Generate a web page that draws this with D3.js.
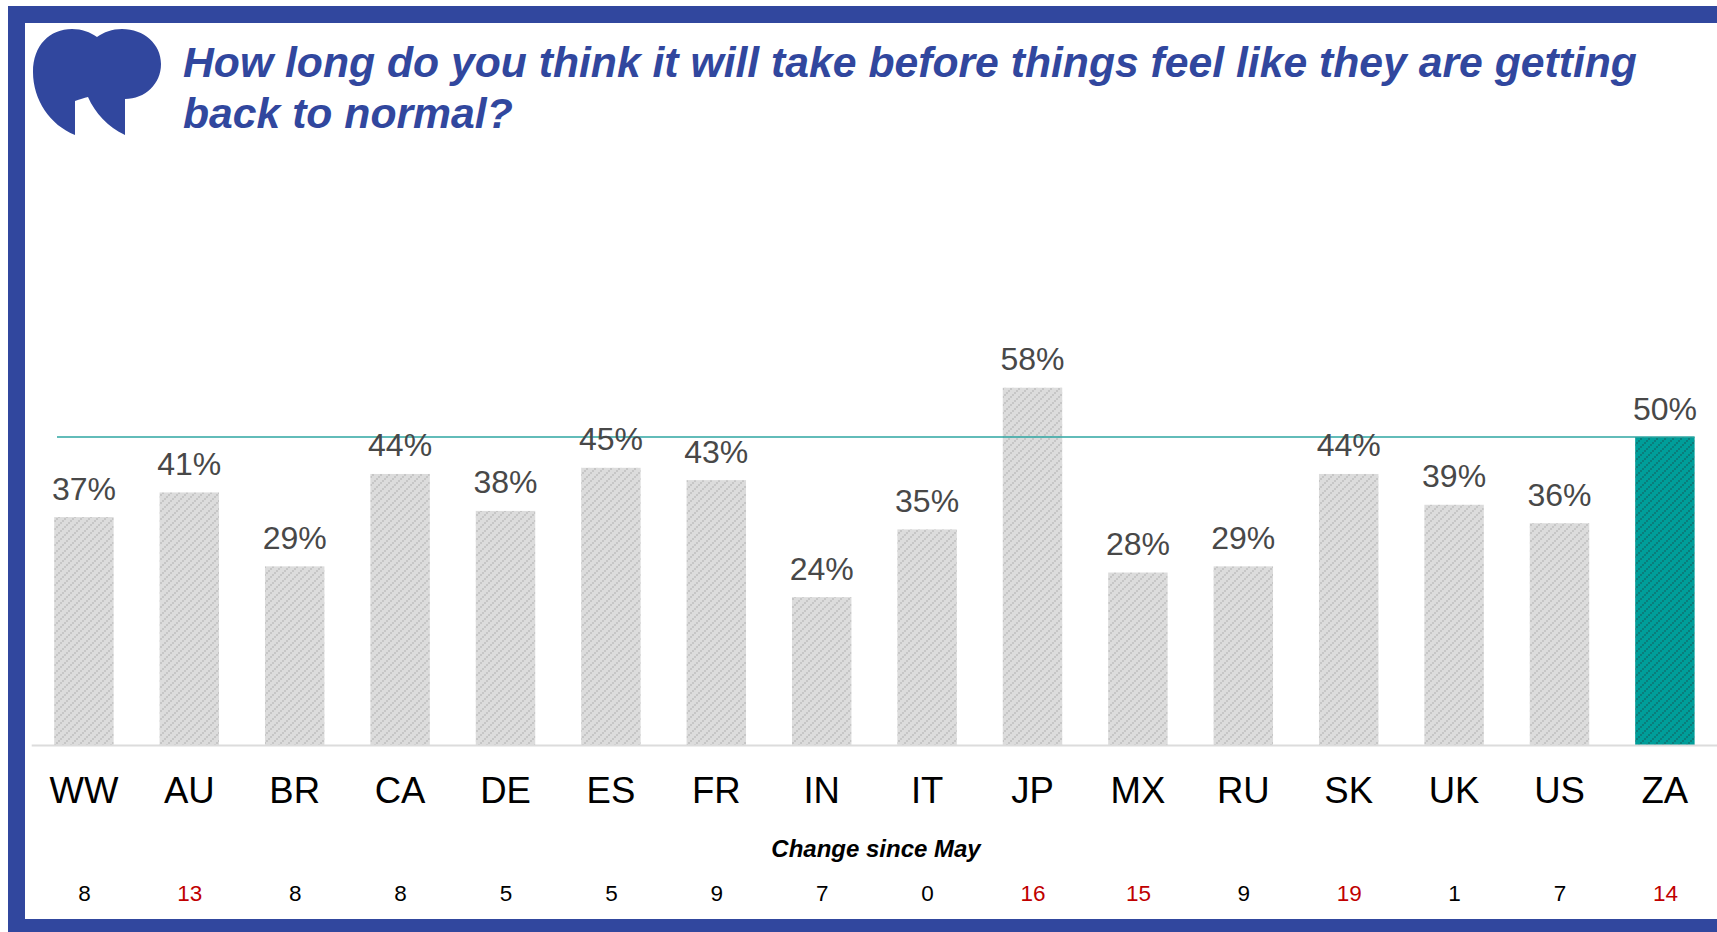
<!DOCTYPE html>
<html><head><meta charset="utf-8">
<script src="https://cdnjs.cloudflare.com/ajax/libs/d3/7.8.5/d3.min.js"></script>
<style>html,body{margin:0;padding:0;background:#fff;overflow:hidden}svg{display:block}text{font-family:"Liberation Sans",Arial,sans-serif}</style>
</head><body><div id="chart"></div>
<script>
const categories = ["WW","AU","BR","CA","DE","ES","FR","IN","IT","JP","MX","RU","SK","UK","US","ZA"];
const values = [37,41,29,44,38,45,43,24,35,58,28,29,44,39,36,50];
const changes = [8,13,8,8,5,5,9,7,0,16,15,9,19,1,7,14];
const highlightedCategory = "ZA";
const referenceValue = 50;
const titleLines = ["How long do you think it will take before things feel like they are getting","back to normal?"];
const changeTitle = "Change since May";

const W = 1717, H = 932;
const BLUE = "#31479e";
const svg = d3.select("#chart").append("svg").attr("width", W).attr("height", H);

const x = d3.scaleBand().domain(categories).range([31.2, 1717.6]).paddingInner(0.436).paddingOuter(0.218);
const y = d3.scaleLinear().domain([0, 50]).range([745, 437]);

const defs = svg.append("defs");
function hatch(id, bg, fg) {
  const p = defs.append("pattern").attr("id", id).attr("patternUnits", "userSpaceOnUse")
    .attr("width", 8).attr("height", 8);
  p.append("rect").attr("width", 8).attr("height", 8).attr("fill", bg);
  p.selectAll("rect.d").data([[0, 6], [2, 4], [4, 2], [6, 0]]).join("rect").attr("class", "d")
    .attr("x", d => d[0]).attr("y", d => d[1]).attr("width", 2).attr("height", 2)
    .attr("fill", fg);
}
hatch("hGray", "#dcdcdc", "#c6c6c6");
hatch("hTeal", "#009e9a", "#0b7d7b");

// frame
svg.append("path").attr("fill", BLUE).attr("fill-rule", "evenodd")
  .attr("d", `M8,6H${W}V${H}H8Z M25,23V919H${W}V23Z`);

// quotation mark
svg.append("path").attr("fill", BLUE)
  .attr("d", "M75,135 C50,125 33,100 33,72 C33,45 50,29 72,29 C82,29 90,32 97,37 C104,32 112,29 122,29 C144,29 161,44 161,64 C161,84 145,99 125,99 L125,135 C108,127 95,113 88,97 C84,98 80,99 75,101 Z");

// title
svg.append("g").selectAll("text").data(titleLines).join("text")
  .attr("x", 183).attr("y", (d, i) => 77 + i * 51)
  .attr("fill", BLUE).attr("font-size", 42.7).attr("font-weight", 700).attr("font-style", "italic")
  .text(d => d);

// bars
svg.append("g").selectAll("rect").data(categories).join("rect")
  .attr("x", d => x(d)).attr("width", x.bandwidth())
  .attr("y", (d, i) => y(values[i])).attr("height", (d, i) => y(0) - y(values[i]))
  .attr("fill", d => d === highlightedCategory ? "url(#hTeal)" : "url(#hGray)");

// reference line
svg.append("line").attr("x1", 57).attr("x2", x(highlightedCategory) + x.bandwidth())
  .attr("y1", y(referenceValue)).attr("y2", y(referenceValue))
  .attr("stroke", "#2ea6a2").attr("stroke-width", 1.3);

// axis
const axis = svg.append("g").attr("transform", `translate(0,${y(0)})`)
  .call(d3.axisBottom(x).tickSize(0).tickPadding(32));
axis.select(".domain").attr("stroke", "#dcdcdc").attr("stroke-width", 2);
axis.selectAll("text").attr("fill", "#000").attr("font-size", 36.5)
  .attr("font-family", '"Liberation Sans",Arial,sans-serif');

// value labels
svg.append("g").selectAll("text").data(categories).join("text")
  .attr("x", d => x(d) + x.bandwidth() / 2)
  .attr("y", (d, i) => y(values[i]) - 17.5)
  .attr("text-anchor", "middle").attr("font-size", 32).attr("fill", "#484848")
  .text((d, i) => values[i] + "%");

// change row
svg.append("text").attr("x", 876).attr("y", 857).attr("text-anchor", "middle")
  .attr("font-size", 24).attr("font-weight", 700).attr("font-style", "italic").attr("fill", "#000")
  .text(changeTitle);
svg.append("g").selectAll("text").data(categories).join("text")
  .attr("x", d => x(d) + x.bandwidth() / 2 + 0.5).attr("y", 900.5)
  .attr("text-anchor", "middle").attr("font-size", 22.5)
  .attr("fill", (d, i) => changes[i] >= 10 ? "#c00000" : "#000")
  .text((d, i) => changes[i]);
</script></body></html>
